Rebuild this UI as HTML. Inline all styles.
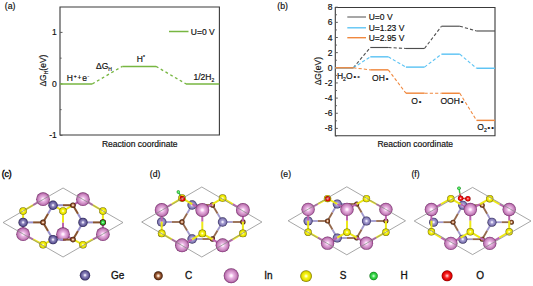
<!DOCTYPE html>
<html><head><meta charset="utf-8"><style>
html,body{margin:0;padding:0;background:#fff;width:533px;height:286px;overflow:hidden}
svg{display:block}
text{font-family:"Liberation Sans", sans-serif;fill:#111;stroke:#111;stroke-width:0.18px}
</style></head><body>
<svg width="533" height="286" viewBox="0 0 533 286">
<defs>
<radialGradient id="gIn" cx="0.5" cy="0.5" r="0.5" fx="0.5" fy="0.5"><stop offset="0" stop-color="#ffffff"/><stop offset="0.16" stop-color="#fde8fa"/><stop offset="0.34" stop-color="#eab4e4"/><stop offset="0.6" stop-color="#d496ca"/><stop offset="0.8" stop-color="#be78b4"/><stop offset="0.92" stop-color="#96488a"/><stop offset="1" stop-color="#6a2a60"/></radialGradient>
<radialGradient id="gGe" cx="0.5" cy="0.5" r="0.5" fx="0.5" fy="0.5"><stop offset="0" stop-color="#ffffff"/><stop offset="0.15" stop-color="#e4e0f6"/><stop offset="0.38" stop-color="#a49cd0"/><stop offset="0.66" stop-color="#8a82bc"/><stop offset="0.84" stop-color="#605892"/><stop offset="1" stop-color="#2e2850"/></radialGradient>
<radialGradient id="gGeD" cx="0.5" cy="0.5" r="0.5" fx="0.5" fy="0.5"><stop offset="0" stop-color="#ffffff"/><stop offset="0.15" stop-color="#dcd8f0"/><stop offset="0.36" stop-color="#8e86bc"/><stop offset="0.64" stop-color="#6e66a2"/><stop offset="0.84" stop-color="#4a4280"/><stop offset="1" stop-color="#241e44"/></radialGradient>
<radialGradient id="gS" cx="0.5" cy="0.5" r="0.5" fx="0.5" fy="0.5"><stop offset="0" stop-color="#ffffff"/><stop offset="0.14" stop-color="#ffffa8"/><stop offset="0.38" stop-color="#f8f418"/><stop offset="0.72" stop-color="#e4e000"/><stop offset="0.88" stop-color="#b0a800"/><stop offset="1" stop-color="#706800"/></radialGradient>
<radialGradient id="gC" cx="0.5" cy="0.5" r="0.5" fx="0.5" fy="0.5"><stop offset="0" stop-color="#ffffff"/><stop offset="0.2" stop-color="#f4d0b4"/><stop offset="0.45" stop-color="#a86c48"/><stop offset="0.72" stop-color="#763e1e"/><stop offset="0.88" stop-color="#5a2a10"/><stop offset="1" stop-color="#2a1004"/></radialGradient>
<radialGradient id="gH" cx="0.5" cy="0.5" r="0.5" fx="0.5" fy="0.5"><stop offset="0" stop-color="#f0fff0"/><stop offset="0.2" stop-color="#90f0a0"/><stop offset="0.45" stop-color="#40dc50"/><stop offset="0.8" stop-color="#20b830"/><stop offset="1" stop-color="#0a7010"/></radialGradient>
<radialGradient id="gO" cx="0.5" cy="0.5" r="0.5" fx="0.5" fy="0.5"><stop offset="0" stop-color="#fff0f0"/><stop offset="0.2" stop-color="#ff8080"/><stop offset="0.45" stop-color="#f82020"/><stop offset="0.8" stop-color="#d80000"/><stop offset="1" stop-color="#800000"/></radialGradient>
</defs>
<path d="M60.0,135.0 L60.0,7.0 L219.4,7.0 L219.4,135.0 Z" fill="none" stroke="#3a3a3a" stroke-width="1.1" stroke-linejoin="miter"/>
<line x1="60" y1="32.400000000000006" x2="62.5" y2="32.400000000000006" stroke="#5a5a5a" stroke-width="1"/>
<text x="56.8" y="35.400000000000006" text-anchor="end" font-size="8.5">1</text>
<line x1="60" y1="83.9" x2="62.5" y2="83.9" stroke="#5a5a5a" stroke-width="1"/>
<text x="56.8" y="86.9" text-anchor="end" font-size="8.5">0</text>
<line x1="60" y1="135.4" x2="62.5" y2="135.4" stroke="#5a5a5a" stroke-width="1"/>
<text x="56.8" y="138.4" text-anchor="end" font-size="8.5">-1</text>
<line x1="60" y1="58.150000000000006" x2="61.6" y2="58.150000000000006" stroke="#5a5a5a" stroke-width="1"/>
<line x1="60" y1="109.65" x2="61.6" y2="109.65" stroke="#5a5a5a" stroke-width="1"/>
<line x1="60" y1="83.9" x2="92.3" y2="83.9" stroke="#77b641" stroke-width="1.5"/>
<line x1="92.3" y1="83.9" x2="122.3" y2="66.39" stroke="#77b641" stroke-width="1.3" stroke-dasharray="2.8,2.7"/>
<line x1="122.3" y1="66.39" x2="156" y2="66.39" stroke="#77b641" stroke-width="1.5"/>
<line x1="156" y1="66.39" x2="186" y2="83.9" stroke="#77b641" stroke-width="1.3" stroke-dasharray="2.8,2.7"/>
<line x1="186" y1="83.9" x2="219.3" y2="83.9" stroke="#77b641" stroke-width="1.5"/>
<line x1="169" y1="31.5" x2="188.5" y2="31.5" stroke="#77b641" stroke-width="1.5"/>
<text x="190.8" y="34.6" font-size="8.5">U=0 V</text>
<text x="66.8" y="80.8" font-size="8.5">H<tspan font-size="5" dy="-3.3" dx="0.8">+</tspan><tspan font-size="6.6" dy="2.9" dx="0.9">+</tspan><tspan dy="0.4" dx="0.9">e</tspan><tspan font-size="5" dy="-3.3" dx="0.5">-</tspan></text>
<text x="96" y="68.8" font-size="8.5">ΔG<tspan font-size="5" dy="2">H</tspan></text>
<text x="136.8" y="61.8" font-size="8.5">H<tspan font-size="5" dy="-3">*</tspan></text>
<text x="193.5" y="79.8" font-size="8.5">1/2H<tspan font-size="5" dy="2.5">2</tspan></text>
<text x="139.7" y="147.3" text-anchor="middle" font-size="8.5">Reaction coordinate</text>
<text transform="translate(46.4,70.6) rotate(-90)" text-anchor="middle" font-size="8.5">ΔG<tspan font-size="5" dy="2">H</tspan><tspan dy="-2">(eV)</tspan></text>
<text x="4.8" y="9.3" font-size="8.7">(a)</text>
<path d="M335.3,135.8 L335.3,7.5 L495.0,7.5 L495.0,135.8 Z" fill="none" stroke="#3a3a3a" stroke-width="1.1" stroke-linejoin="miter"/>
<line x1="335.3" y1="7.199999999999996" x2="337.8" y2="7.199999999999996" stroke="#5a5a5a" stroke-width="1"/>
<text x="332.4" y="10.199999999999996" text-anchor="end" font-size="8.5">8</text>
<line x1="335.3" y1="22.349999999999994" x2="337.8" y2="22.349999999999994" stroke="#5a5a5a" stroke-width="1"/>
<text x="332.4" y="25.349999999999994" text-anchor="end" font-size="8.5">6</text>
<line x1="335.3" y1="37.5" x2="337.8" y2="37.5" stroke="#5a5a5a" stroke-width="1"/>
<text x="332.4" y="40.5" text-anchor="end" font-size="8.5">4</text>
<line x1="335.3" y1="52.65" x2="337.8" y2="52.65" stroke="#5a5a5a" stroke-width="1"/>
<text x="332.4" y="55.65" text-anchor="end" font-size="8.5">2</text>
<line x1="335.3" y1="67.8" x2="337.8" y2="67.8" stroke="#5a5a5a" stroke-width="1"/>
<text x="332.4" y="70.8" text-anchor="end" font-size="8.5">0</text>
<line x1="335.3" y1="82.95" x2="337.8" y2="82.95" stroke="#5a5a5a" stroke-width="1"/>
<text x="332.4" y="85.95" text-anchor="end" font-size="8.5">-2</text>
<line x1="335.3" y1="98.1" x2="337.8" y2="98.1" stroke="#5a5a5a" stroke-width="1"/>
<text x="332.4" y="101.1" text-anchor="end" font-size="8.5">-4</text>
<line x1="335.3" y1="113.25" x2="337.8" y2="113.25" stroke="#5a5a5a" stroke-width="1"/>
<text x="332.4" y="116.25" text-anchor="end" font-size="8.5">-6</text>
<line x1="335.3" y1="128.4" x2="337.8" y2="128.4" stroke="#5a5a5a" stroke-width="1"/>
<text x="332.4" y="131.4" text-anchor="end" font-size="8.5">-8</text>
<line x1="335.3" y1="14.774999999999999" x2="336.90000000000003" y2="14.774999999999999" stroke="#5a5a5a" stroke-width="1"/>
<line x1="335.3" y1="29.924999999999997" x2="336.90000000000003" y2="29.924999999999997" stroke="#5a5a5a" stroke-width="1"/>
<line x1="335.3" y1="45.074999999999996" x2="336.90000000000003" y2="45.074999999999996" stroke="#5a5a5a" stroke-width="1"/>
<line x1="335.3" y1="60.224999999999994" x2="336.90000000000003" y2="60.224999999999994" stroke="#5a5a5a" stroke-width="1"/>
<line x1="335.3" y1="75.375" x2="336.90000000000003" y2="75.375" stroke="#5a5a5a" stroke-width="1"/>
<line x1="335.3" y1="90.525" x2="336.90000000000003" y2="90.525" stroke="#5a5a5a" stroke-width="1"/>
<line x1="335.3" y1="105.675" x2="336.90000000000003" y2="105.675" stroke="#5a5a5a" stroke-width="1"/>
<line x1="335.3" y1="120.82499999999999" x2="336.90000000000003" y2="120.82499999999999" stroke="#5a5a5a" stroke-width="1"/>
<line x1="335.3" y1="135.975" x2="336.90000000000003" y2="135.975" stroke="#5a5a5a" stroke-width="1"/>
<line x1="335.3" y1="67.8" x2="353.3" y2="67.8" stroke="#4e4e4e" stroke-width="1.15"/>
<line x1="353.3" y1="67.8" x2="370.3" y2="47.498999999999995" stroke="#4e4e4e" stroke-width="1.1" stroke-dasharray="3.2,2.1"/>
<line x1="370.3" y1="47.498999999999995" x2="388.3" y2="47.498999999999995" stroke="#4e4e4e" stroke-width="1.15"/>
<line x1="388.3" y1="47.498999999999995" x2="405.9" y2="48.48375" stroke="#4e4e4e" stroke-width="1.1" stroke-dasharray="3.2,2.1"/>
<line x1="405.9" y1="48.48375" x2="424.5" y2="48.48375" stroke="#4e4e4e" stroke-width="1.15"/>
<line x1="424.5" y1="48.48375" x2="441.5" y2="26.213249999999995" stroke="#4e4e4e" stroke-width="1.1" stroke-dasharray="3.2,2.1"/>
<line x1="441.5" y1="26.213249999999995" x2="459.8" y2="26.213249999999995" stroke="#4e4e4e" stroke-width="1.15"/>
<line x1="459.8" y1="26.213249999999995" x2="476.5" y2="30.985499999999995" stroke="#4e4e4e" stroke-width="1.1" stroke-dasharray="3.2,2.1"/>
<line x1="476.5" y1="30.985499999999995" x2="495" y2="30.985499999999995" stroke="#4e4e4e" stroke-width="1.15"/>
<line x1="335.3" y1="67.8" x2="353.3" y2="67.8" stroke="#5ec4f4" stroke-width="1.45"/>
<line x1="353.3" y1="67.8" x2="370.3" y2="56.81625" stroke="#5ec4f4" stroke-width="1.1" stroke-dasharray="3.2,2.1"/>
<line x1="370.3" y1="56.81625" x2="388.3" y2="56.81625" stroke="#5ec4f4" stroke-width="1.45"/>
<line x1="388.3" y1="56.81625" x2="405.9" y2="67.11825" stroke="#5ec4f4" stroke-width="1.1" stroke-dasharray="3.2,2.1"/>
<line x1="405.9" y1="67.11825" x2="424.5" y2="67.11825" stroke="#5ec4f4" stroke-width="1.45"/>
<line x1="424.5" y1="67.11825" x2="441.5" y2="54.16499999999999" stroke="#5ec4f4" stroke-width="1.1" stroke-dasharray="3.2,2.1"/>
<line x1="441.5" y1="54.16499999999999" x2="459.8" y2="54.16499999999999" stroke="#5ec4f4" stroke-width="1.45"/>
<line x1="459.8" y1="54.16499999999999" x2="476.5" y2="68.2545" stroke="#5ec4f4" stroke-width="1.1" stroke-dasharray="3.2,2.1"/>
<line x1="476.5" y1="68.2545" x2="495" y2="68.2545" stroke="#5ec4f4" stroke-width="1.45"/>
<line x1="335.3" y1="67.8" x2="353.3" y2="67.8" stroke="#f0883e" stroke-width="1.45"/>
<line x1="353.3" y1="67.8" x2="370.3" y2="69.84525" stroke="#f0883e" stroke-width="1.1" stroke-dasharray="3.2,2.1"/>
<line x1="370.3" y1="69.84525" x2="388.3" y2="69.84525" stroke="#f0883e" stroke-width="1.45"/>
<line x1="388.3" y1="69.84525" x2="405.9" y2="93.17625000000001" stroke="#f0883e" stroke-width="1.1" stroke-dasharray="3.2,2.1"/>
<line x1="405.9" y1="93.17625000000001" x2="424.5" y2="93.17625000000001" stroke="#f0883e" stroke-width="1.45"/>
<line x1="424.5" y1="93.17625000000001" x2="441.5" y2="93.25200000000001" stroke="#f0883e" stroke-width="1.1" stroke-dasharray="3.2,2.1"/>
<line x1="441.5" y1="93.25200000000001" x2="459.8" y2="93.25200000000001" stroke="#f0883e" stroke-width="1.45"/>
<line x1="459.8" y1="93.25200000000001" x2="476.5" y2="120.37049999999999" stroke="#f0883e" stroke-width="1.1" stroke-dasharray="3.2,2.1"/>
<line x1="476.5" y1="120.37049999999999" x2="495" y2="120.37049999999999" stroke="#f0883e" stroke-width="1.45"/>
<line x1="347.3" y1="17" x2="366" y2="17" stroke="#4e4e4e" stroke-width="1.0"/>
<text x="368.7" y="20" font-size="8.5">U=0 V</text>
<line x1="347.3" y1="27.8" x2="366" y2="27.8" stroke="#5ec4f4" stroke-width="1.4"/>
<text x="368.7" y="30.8" font-size="8.5">U=1.23 V</text>
<line x1="347.3" y1="37.7" x2="366" y2="37.7" stroke="#f0883e" stroke-width="1.4"/>
<text x="368.7" y="40.7" font-size="8.5">U=2.95 V</text>
<text x="336.9" y="78.9" font-size="8.5">H<tspan font-size="5.2" dy="2">2</tspan><tspan dy="-2">O</tspan><tspan dx="0.9" font-size="7.5">•</tspan><tspan dx="1.2" font-size="7.5" fill="#555" style="stroke:#555">•</tspan></text>
<text x="372.1" y="81.2" font-size="8.5">OH<tspan dx="0.9" font-size="7.5">•</tspan></text>
<text x="411.2" y="104" font-size="8.5">O<tspan dx="0.9" font-size="7.5">•</tspan></text>
<text x="440.5" y="104" font-size="8.5">OOH<tspan dx="0.9" font-size="7.5">•</tspan></text>
<text x="477.3" y="129.6" font-size="8.5">O<tspan font-size="5.2" dy="2">2</tspan><tspan dy="-2" dx="0.6" font-size="7.5">•</tspan><tspan dx="1.2" font-size="7.5">•</tspan></text>
<text x="415.2" y="147.3" text-anchor="middle" font-size="8.5">Reaction coordinate</text>
<text transform="translate(321.3,71.2) rotate(-90)" text-anchor="middle" font-size="8.5">ΔG(eV)</text>
<text x="277.3" y="9.3" font-size="8.7">(b)</text>
<line x1="23.10" y1="234.20" x2="33.08" y2="239.45" stroke="#bc64ae" stroke-width="2.0"/><line x1="33.08" y1="239.45" x2="43.05" y2="244.70" stroke="#ece818" stroke-width="2.0"/>
<line x1="63.00" y1="234.20" x2="53.02" y2="239.45" stroke="#bc64ae" stroke-width="2.0"/><line x1="53.02" y1="239.45" x2="43.05" y2="244.70" stroke="#ece818" stroke-width="2.0"/>
<line x1="63.00" y1="234.20" x2="72.97" y2="239.45" stroke="#bc64ae" stroke-width="2.0"/><line x1="72.97" y1="239.45" x2="82.95" y2="244.70" stroke="#ece818" stroke-width="2.0"/>
<line x1="102.90" y1="234.20" x2="92.93" y2="239.45" stroke="#bc64ae" stroke-width="2.0"/><line x1="92.93" y1="239.45" x2="82.95" y2="244.70" stroke="#ece818" stroke-width="2.0"/>
<line x1="43.05" y1="199.20" x2="33.08" y2="205.10" stroke="#bc64ae" stroke-width="2.0"/><line x1="33.08" y1="205.10" x2="23.10" y2="211.00" stroke="#ece818" stroke-width="2.0"/>
<line x1="43.05" y1="199.20" x2="53.02" y2="205.10" stroke="#bc64ae" stroke-width="2.0"/><line x1="53.02" y1="205.10" x2="63.00" y2="211.00" stroke="#ece818" stroke-width="2.0"/>
<line x1="82.95" y1="199.20" x2="72.97" y2="205.10" stroke="#bc64ae" stroke-width="2.0"/><line x1="72.97" y1="205.10" x2="63.00" y2="211.00" stroke="#ece818" stroke-width="2.0"/>
<line x1="82.95" y1="199.20" x2="92.93" y2="205.10" stroke="#bc64ae" stroke-width="2.0"/><line x1="92.93" y1="205.10" x2="102.90" y2="211.00" stroke="#ece818" stroke-width="2.0"/>
<line x1="23.10" y1="234.20" x2="23.10" y2="222.60" stroke="#bc64ae" stroke-width="2.0"/><line x1="23.10" y1="222.60" x2="23.10" y2="211.00" stroke="#ece818" stroke-width="2.0"/>
<line x1="63.00" y1="234.20" x2="63.00" y2="222.60" stroke="#bc64ae" stroke-width="2.0"/><line x1="63.00" y1="222.60" x2="63.00" y2="211.00" stroke="#ece818" stroke-width="2.0"/>
<line x1="102.90" y1="234.20" x2="102.90" y2="222.60" stroke="#bc64ae" stroke-width="2.0"/><line x1="102.90" y1="222.60" x2="102.90" y2="211.00" stroke="#ece818" stroke-width="2.0"/>
<circle cx="23.10" cy="211.00" r="3.79" fill="url(#gS)"/>
<circle cx="63.00" cy="211.00" r="3.79" fill="url(#gS)"/>
<circle cx="102.90" cy="211.00" r="3.79" fill="url(#gS)"/>
<circle cx="43.05" cy="244.70" r="3.79" fill="url(#gS)"/>
<circle cx="82.95" cy="244.70" r="3.79" fill="url(#gS)"/>
<circle cx="23.10" cy="234.20" r="6.83" fill="url(#gIn)"/>
<circle cx="63.00" cy="234.20" r="6.83" fill="url(#gIn)"/>
<circle cx="102.90" cy="234.20" r="6.83" fill="url(#gIn)"/>
<circle cx="43.05" cy="199.20" r="6.83" fill="url(#gIn)"/>
<circle cx="82.95" cy="199.20" r="6.83" fill="url(#gIn)"/>
<line x1="23.10" y1="222.40" x2="33.08" y2="222.40" stroke="#9890cc" stroke-width="2.0"/><line x1="33.08" y1="222.40" x2="43.05" y2="222.40" stroke="#86522e" stroke-width="2.0"/>
<line x1="53.02" y1="239.60" x2="48.04" y2="231.00" stroke="#9890cc" stroke-width="2.0"/><line x1="48.04" y1="231.00" x2="43.05" y2="222.40" stroke="#86522e" stroke-width="2.0"/>
<line x1="53.02" y1="205.20" x2="48.04" y2="213.80" stroke="#9890cc" stroke-width="2.0"/><line x1="48.04" y1="213.80" x2="43.05" y2="222.40" stroke="#86522e" stroke-width="2.0"/>
<line x1="53.02" y1="239.60" x2="63.00" y2="239.60" stroke="#9890cc" stroke-width="2.0"/><line x1="63.00" y1="239.60" x2="72.97" y2="239.60" stroke="#86522e" stroke-width="2.0"/>
<line x1="53.02" y1="205.20" x2="63.00" y2="205.20" stroke="#9890cc" stroke-width="2.0"/><line x1="63.00" y1="205.20" x2="72.97" y2="205.20" stroke="#86522e" stroke-width="2.0"/>
<line x1="82.95" y1="222.40" x2="77.96" y2="231.00" stroke="#9890cc" stroke-width="2.0"/><line x1="77.96" y1="231.00" x2="72.97" y2="239.60" stroke="#86522e" stroke-width="2.0"/>
<line x1="82.95" y1="222.40" x2="77.96" y2="213.80" stroke="#9890cc" stroke-width="2.0"/><line x1="77.96" y1="213.80" x2="72.97" y2="205.20" stroke="#86522e" stroke-width="2.0"/>
<line x1="82.95" y1="222.40" x2="92.93" y2="222.40" stroke="#9890cc" stroke-width="2.0"/><line x1="92.93" y1="222.40" x2="102.90" y2="222.40" stroke="#86522e" stroke-width="2.0"/>
<circle cx="23.10" cy="222.40" r="4.69" fill="url(#gGeD)"/>
<circle cx="82.95" cy="222.40" r="4.69" fill="url(#gGeD)"/>
<circle cx="53.02" cy="239.60" r="4.69" fill="url(#gGeD)"/>
<circle cx="53.02" cy="205.20" r="4.69" fill="url(#gGeD)"/>
<circle cx="43.05" cy="222.40" r="2.79" fill="url(#gC)"/>
<circle cx="102.90" cy="222.40" r="2.79" fill="url(#gC)"/>
<circle cx="72.97" cy="239.60" r="2.79" fill="url(#gC)"/>
<circle cx="72.97" cy="205.20" r="2.79" fill="url(#gC)"/>
<circle cx="102.90" cy="222.40" r="3.10" fill="url(#gC)"/>
<circle cx="102.90" cy="222.40" r="2.50" fill="url(#gH)"/>
<polygon points="3.10,222.50 63.05,188.00 123.00,222.50 63.05,257.00" fill="none" stroke="#8a8a8a" stroke-width="0.75"/>
<line x1="161.70" y1="222.00" x2="171.85" y2="222.00" stroke="#a098cc" stroke-width="1.8"/><line x1="171.85" y1="222.00" x2="182.00" y2="222.00" stroke="#94684c" stroke-width="1.8"/>
<line x1="192.15" y1="205.00" x2="187.07" y2="213.50" stroke="#a098cc" stroke-width="1.8"/><line x1="187.07" y1="213.50" x2="182.00" y2="222.00" stroke="#94684c" stroke-width="1.8"/>
<line x1="192.15" y1="239.00" x2="187.07" y2="230.50" stroke="#a098cc" stroke-width="1.8"/><line x1="187.07" y1="230.50" x2="182.00" y2="222.00" stroke="#94684c" stroke-width="1.8"/>
<line x1="192.15" y1="205.00" x2="202.30" y2="205.00" stroke="#a098cc" stroke-width="1.8"/><line x1="202.30" y1="205.00" x2="212.45" y2="205.00" stroke="#94684c" stroke-width="1.8"/>
<line x1="192.15" y1="239.00" x2="202.30" y2="239.00" stroke="#a098cc" stroke-width="1.8"/><line x1="202.30" y1="239.00" x2="212.45" y2="239.00" stroke="#94684c" stroke-width="1.8"/>
<line x1="222.60" y1="222.00" x2="217.53" y2="213.50" stroke="#a098cc" stroke-width="1.8"/><line x1="217.53" y1="213.50" x2="212.45" y2="205.00" stroke="#94684c" stroke-width="1.8"/>
<line x1="222.60" y1="222.00" x2="217.53" y2="230.50" stroke="#a098cc" stroke-width="1.8"/><line x1="217.53" y1="230.50" x2="212.45" y2="239.00" stroke="#94684c" stroke-width="1.8"/>
<line x1="222.60" y1="222.00" x2="232.75" y2="222.00" stroke="#a098cc" stroke-width="1.8"/><line x1="232.75" y1="222.00" x2="242.90" y2="222.00" stroke="#94684c" stroke-width="1.8"/>
<circle cx="161.70" cy="222.00" r="4.77" fill="url(#gGe)"/>
<circle cx="222.60" cy="222.00" r="4.77" fill="url(#gGe)"/>
<circle cx="192.15" cy="205.00" r="4.77" fill="url(#gGe)"/>
<circle cx="192.15" cy="239.00" r="4.77" fill="url(#gGe)"/>
<circle cx="182.00" cy="222.00" r="2.64" fill="url(#gC)"/>
<circle cx="242.90" cy="222.00" r="2.64" fill="url(#gC)"/>
<circle cx="212.45" cy="205.00" r="2.64" fill="url(#gC)"/>
<circle cx="212.45" cy="239.00" r="2.64" fill="url(#gC)"/>
<line x1="161.70" y1="210.00" x2="171.85" y2="204.05" stroke="#bc64ae" stroke-width="2.0"/><line x1="171.85" y1="204.05" x2="182.00" y2="198.10" stroke="#ece818" stroke-width="2.0"/>
<line x1="202.30" y1="210.00" x2="192.15" y2="204.05" stroke="#bc64ae" stroke-width="2.0"/><line x1="192.15" y1="204.05" x2="182.00" y2="198.10" stroke="#ece818" stroke-width="2.0"/>
<line x1="202.30" y1="210.00" x2="212.45" y2="204.05" stroke="#bc64ae" stroke-width="2.0"/><line x1="212.45" y1="204.05" x2="222.60" y2="198.10" stroke="#ece818" stroke-width="2.0"/>
<line x1="242.90" y1="210.00" x2="232.75" y2="204.05" stroke="#bc64ae" stroke-width="2.0"/><line x1="232.75" y1="204.05" x2="222.60" y2="198.10" stroke="#ece818" stroke-width="2.0"/>
<line x1="182.00" y1="245.30" x2="171.85" y2="239.35" stroke="#bc64ae" stroke-width="2.0"/><line x1="171.85" y1="239.35" x2="161.70" y2="233.40" stroke="#ece818" stroke-width="2.0"/>
<line x1="182.00" y1="245.30" x2="192.15" y2="239.35" stroke="#bc64ae" stroke-width="2.0"/><line x1="192.15" y1="239.35" x2="202.30" y2="233.40" stroke="#ece818" stroke-width="2.0"/>
<line x1="222.60" y1="245.30" x2="212.45" y2="239.35" stroke="#bc64ae" stroke-width="2.0"/><line x1="212.45" y1="239.35" x2="202.30" y2="233.40" stroke="#ece818" stroke-width="2.0"/>
<line x1="222.60" y1="245.30" x2="232.75" y2="239.35" stroke="#bc64ae" stroke-width="2.0"/><line x1="232.75" y1="239.35" x2="242.90" y2="233.40" stroke="#ece818" stroke-width="2.0"/>
<line x1="161.70" y1="210.00" x2="161.70" y2="221.70" stroke="#bc64ae" stroke-width="2.0"/><line x1="161.70" y1="221.70" x2="161.70" y2="233.40" stroke="#ece818" stroke-width="2.0"/>
<line x1="202.30" y1="210.00" x2="202.30" y2="221.70" stroke="#bc64ae" stroke-width="2.0"/><line x1="202.30" y1="221.70" x2="202.30" y2="233.40" stroke="#ece818" stroke-width="2.0"/>
<line x1="242.90" y1="210.00" x2="242.90" y2="221.70" stroke="#bc64ae" stroke-width="2.0"/><line x1="242.90" y1="221.70" x2="242.90" y2="233.40" stroke="#ece818" stroke-width="2.0"/>
<circle cx="161.70" cy="233.40" r="3.86" fill="url(#gS)"/>
<circle cx="202.30" cy="233.40" r="3.86" fill="url(#gS)"/>
<circle cx="242.90" cy="233.40" r="3.86" fill="url(#gS)"/>
<circle cx="182.00" cy="198.10" r="3.86" fill="url(#gS)"/>
<circle cx="222.60" cy="198.10" r="3.86" fill="url(#gS)"/>
<circle cx="161.70" cy="210.00" r="6.95" fill="url(#gIn)"/>
<circle cx="202.30" cy="210.00" r="6.95" fill="url(#gIn)"/>
<circle cx="242.90" cy="210.00" r="6.95" fill="url(#gIn)"/>
<circle cx="182.00" cy="245.30" r="6.95" fill="url(#gIn)"/>
<circle cx="222.60" cy="245.30" r="6.95" fill="url(#gIn)"/>
<line x1="182.40" y1="198.80" x2="180.35" y2="195.40" stroke="#e01818" stroke-width="1.3"/><line x1="180.35" y1="195.40" x2="178.30" y2="192.00" stroke="#30c040" stroke-width="1.3"/>
<circle cx="182.40" cy="198.80" r="2.70" fill="url(#gO)"/>
<circle cx="178.30" cy="192.00" r="1.70" fill="url(#gH)"/>
<polygon points="141.70,222.00 201.80,187.00 261.90,222.00 201.80,257.00" fill="none" stroke="#8a8a8a" stroke-width="0.75"/>
<line x1="308.10" y1="221.00" x2="317.83" y2="221.00" stroke="#a098cc" stroke-width="1.8"/><line x1="317.83" y1="221.00" x2="327.55" y2="221.00" stroke="#94684c" stroke-width="1.8"/>
<line x1="337.27" y1="204.00" x2="332.41" y2="212.50" stroke="#a098cc" stroke-width="1.8"/><line x1="332.41" y1="212.50" x2="327.55" y2="221.00" stroke="#94684c" stroke-width="1.8"/>
<line x1="337.27" y1="238.00" x2="332.41" y2="229.50" stroke="#a098cc" stroke-width="1.8"/><line x1="332.41" y1="229.50" x2="327.55" y2="221.00" stroke="#94684c" stroke-width="1.8"/>
<line x1="337.27" y1="204.00" x2="347.00" y2="204.00" stroke="#a098cc" stroke-width="1.8"/><line x1="347.00" y1="204.00" x2="356.73" y2="204.00" stroke="#94684c" stroke-width="1.8"/>
<line x1="337.27" y1="238.00" x2="347.00" y2="238.00" stroke="#a098cc" stroke-width="1.8"/><line x1="347.00" y1="238.00" x2="356.73" y2="238.00" stroke="#94684c" stroke-width="1.8"/>
<line x1="366.45" y1="221.00" x2="361.59" y2="212.50" stroke="#a098cc" stroke-width="1.8"/><line x1="361.59" y1="212.50" x2="356.73" y2="204.00" stroke="#94684c" stroke-width="1.8"/>
<line x1="366.45" y1="221.00" x2="361.59" y2="229.50" stroke="#a098cc" stroke-width="1.8"/><line x1="361.59" y1="229.50" x2="356.73" y2="238.00" stroke="#94684c" stroke-width="1.8"/>
<line x1="366.45" y1="221.00" x2="376.17" y2="221.00" stroke="#a098cc" stroke-width="1.8"/><line x1="376.17" y1="221.00" x2="385.90" y2="221.00" stroke="#94684c" stroke-width="1.8"/>
<circle cx="308.10" cy="221.00" r="4.57" fill="url(#gGe)"/>
<circle cx="366.45" cy="221.00" r="4.57" fill="url(#gGe)"/>
<circle cx="337.27" cy="204.00" r="4.57" fill="url(#gGe)"/>
<circle cx="337.27" cy="238.00" r="4.57" fill="url(#gGe)"/>
<circle cx="327.55" cy="221.00" r="2.53" fill="url(#gC)"/>
<circle cx="385.90" cy="221.00" r="2.53" fill="url(#gC)"/>
<circle cx="356.73" cy="204.00" r="2.53" fill="url(#gC)"/>
<circle cx="356.73" cy="238.00" r="2.53" fill="url(#gC)"/>
<line x1="308.10" y1="209.40" x2="317.83" y2="204.00" stroke="#bc64ae" stroke-width="2.0"/><line x1="317.83" y1="204.00" x2="327.55" y2="198.60" stroke="#ece818" stroke-width="2.0"/>
<line x1="347.00" y1="209.40" x2="337.27" y2="204.00" stroke="#bc64ae" stroke-width="2.0"/><line x1="337.27" y1="204.00" x2="327.55" y2="198.60" stroke="#ece818" stroke-width="2.0"/>
<line x1="347.00" y1="209.40" x2="356.73" y2="204.00" stroke="#bc64ae" stroke-width="2.0"/><line x1="356.73" y1="204.00" x2="366.45" y2="198.60" stroke="#ece818" stroke-width="2.0"/>
<line x1="385.90" y1="209.40" x2="376.17" y2="204.00" stroke="#bc64ae" stroke-width="2.0"/><line x1="376.17" y1="204.00" x2="366.45" y2="198.60" stroke="#ece818" stroke-width="2.0"/>
<line x1="327.55" y1="243.20" x2="317.83" y2="237.70" stroke="#bc64ae" stroke-width="2.0"/><line x1="317.83" y1="237.70" x2="308.10" y2="232.20" stroke="#ece818" stroke-width="2.0"/>
<line x1="327.55" y1="243.20" x2="337.27" y2="237.70" stroke="#bc64ae" stroke-width="2.0"/><line x1="337.27" y1="237.70" x2="347.00" y2="232.20" stroke="#ece818" stroke-width="2.0"/>
<line x1="366.45" y1="243.20" x2="356.73" y2="237.70" stroke="#bc64ae" stroke-width="2.0"/><line x1="356.73" y1="237.70" x2="347.00" y2="232.20" stroke="#ece818" stroke-width="2.0"/>
<line x1="366.45" y1="243.20" x2="376.17" y2="237.70" stroke="#bc64ae" stroke-width="2.0"/><line x1="376.17" y1="237.70" x2="385.90" y2="232.20" stroke="#ece818" stroke-width="2.0"/>
<line x1="308.10" y1="209.40" x2="308.10" y2="220.80" stroke="#bc64ae" stroke-width="2.0"/><line x1="308.10" y1="220.80" x2="308.10" y2="232.20" stroke="#ece818" stroke-width="2.0"/>
<line x1="347.00" y1="209.40" x2="347.00" y2="220.80" stroke="#bc64ae" stroke-width="2.0"/><line x1="347.00" y1="220.80" x2="347.00" y2="232.20" stroke="#ece818" stroke-width="2.0"/>
<line x1="385.90" y1="209.40" x2="385.90" y2="220.80" stroke="#bc64ae" stroke-width="2.0"/><line x1="385.90" y1="220.80" x2="385.90" y2="232.20" stroke="#ece818" stroke-width="2.0"/>
<circle cx="308.10" cy="232.20" r="3.70" fill="url(#gS)"/>
<circle cx="347.00" cy="232.20" r="3.70" fill="url(#gS)"/>
<circle cx="385.90" cy="232.20" r="3.70" fill="url(#gS)"/>
<circle cx="327.55" cy="198.60" r="3.70" fill="url(#gS)"/>
<circle cx="366.45" cy="198.60" r="3.70" fill="url(#gS)"/>
<circle cx="308.10" cy="209.40" r="6.66" fill="url(#gIn)"/>
<circle cx="347.00" cy="209.40" r="6.66" fill="url(#gIn)"/>
<circle cx="385.90" cy="209.40" r="6.66" fill="url(#gIn)"/>
<circle cx="327.55" cy="243.20" r="6.66" fill="url(#gIn)"/>
<circle cx="366.45" cy="243.20" r="6.66" fill="url(#gIn)"/>
<circle cx="327.70" cy="198.80" r="2.70" fill="url(#gO)"/>
<polygon points="288.10,220.80 346.80,186.80 405.50,220.80 346.80,254.80" fill="none" stroke="#8a8a8a" stroke-width="0.75"/>
<line x1="433.60" y1="222.20" x2="443.33" y2="222.20" stroke="#a098cc" stroke-width="1.8"/><line x1="443.33" y1="222.20" x2="453.05" y2="222.20" stroke="#94684c" stroke-width="1.8"/>
<line x1="462.77" y1="205.20" x2="457.91" y2="213.70" stroke="#a098cc" stroke-width="1.8"/><line x1="457.91" y1="213.70" x2="453.05" y2="222.20" stroke="#94684c" stroke-width="1.8"/>
<line x1="462.77" y1="239.20" x2="457.91" y2="230.70" stroke="#a098cc" stroke-width="1.8"/><line x1="457.91" y1="230.70" x2="453.05" y2="222.20" stroke="#94684c" stroke-width="1.8"/>
<line x1="462.77" y1="205.20" x2="472.50" y2="205.20" stroke="#a098cc" stroke-width="1.8"/><line x1="472.50" y1="205.20" x2="482.23" y2="205.20" stroke="#94684c" stroke-width="1.8"/>
<line x1="462.77" y1="239.20" x2="472.50" y2="239.20" stroke="#a098cc" stroke-width="1.8"/><line x1="472.50" y1="239.20" x2="482.23" y2="239.20" stroke="#94684c" stroke-width="1.8"/>
<line x1="491.95" y1="222.20" x2="487.09" y2="213.70" stroke="#a098cc" stroke-width="1.8"/><line x1="487.09" y1="213.70" x2="482.23" y2="205.20" stroke="#94684c" stroke-width="1.8"/>
<line x1="491.95" y1="222.20" x2="487.09" y2="230.70" stroke="#a098cc" stroke-width="1.8"/><line x1="487.09" y1="230.70" x2="482.23" y2="239.20" stroke="#94684c" stroke-width="1.8"/>
<line x1="491.95" y1="222.20" x2="501.67" y2="222.20" stroke="#a098cc" stroke-width="1.8"/><line x1="501.67" y1="222.20" x2="511.40" y2="222.20" stroke="#94684c" stroke-width="1.8"/>
<circle cx="433.60" cy="222.20" r="4.57" fill="url(#gGe)"/>
<circle cx="491.95" cy="222.20" r="4.57" fill="url(#gGe)"/>
<circle cx="462.77" cy="205.20" r="4.57" fill="url(#gGe)"/>
<circle cx="462.77" cy="239.20" r="4.57" fill="url(#gGe)"/>
<circle cx="453.05" cy="222.20" r="2.53" fill="url(#gC)"/>
<circle cx="511.40" cy="222.20" r="2.53" fill="url(#gC)"/>
<circle cx="482.23" cy="205.20" r="2.53" fill="url(#gC)"/>
<circle cx="482.23" cy="239.20" r="2.53" fill="url(#gC)"/>
<line x1="431.40" y1="209.50" x2="441.12" y2="204.10" stroke="#bc64ae" stroke-width="2.0"/><line x1="441.12" y1="204.10" x2="450.85" y2="198.70" stroke="#ece818" stroke-width="2.0"/>
<line x1="470.30" y1="209.50" x2="460.58" y2="204.10" stroke="#bc64ae" stroke-width="2.0"/><line x1="460.58" y1="204.10" x2="450.85" y2="198.70" stroke="#ece818" stroke-width="2.0"/>
<line x1="470.30" y1="209.50" x2="480.02" y2="204.10" stroke="#bc64ae" stroke-width="2.0"/><line x1="480.02" y1="204.10" x2="489.75" y2="198.70" stroke="#ece818" stroke-width="2.0"/>
<line x1="509.20" y1="209.50" x2="499.48" y2="204.10" stroke="#bc64ae" stroke-width="2.0"/><line x1="499.48" y1="204.10" x2="489.75" y2="198.70" stroke="#ece818" stroke-width="2.0"/>
<line x1="450.85" y1="243.40" x2="441.12" y2="237.60" stroke="#bc64ae" stroke-width="2.0"/><line x1="441.12" y1="237.60" x2="431.40" y2="231.80" stroke="#ece818" stroke-width="2.0"/>
<line x1="450.85" y1="243.40" x2="460.58" y2="237.60" stroke="#bc64ae" stroke-width="2.0"/><line x1="460.58" y1="237.60" x2="470.30" y2="231.80" stroke="#ece818" stroke-width="2.0"/>
<line x1="489.75" y1="243.40" x2="480.02" y2="237.60" stroke="#bc64ae" stroke-width="2.0"/><line x1="480.02" y1="237.60" x2="470.30" y2="231.80" stroke="#ece818" stroke-width="2.0"/>
<line x1="489.75" y1="243.40" x2="499.48" y2="237.60" stroke="#bc64ae" stroke-width="2.0"/><line x1="499.48" y1="237.60" x2="509.20" y2="231.80" stroke="#ece818" stroke-width="2.0"/>
<line x1="431.40" y1="209.50" x2="431.40" y2="220.65" stroke="#bc64ae" stroke-width="2.0"/><line x1="431.40" y1="220.65" x2="431.40" y2="231.80" stroke="#ece818" stroke-width="2.0"/>
<line x1="470.30" y1="209.50" x2="470.30" y2="220.65" stroke="#bc64ae" stroke-width="2.0"/><line x1="470.30" y1="220.65" x2="470.30" y2="231.80" stroke="#ece818" stroke-width="2.0"/>
<line x1="509.20" y1="209.50" x2="509.20" y2="220.65" stroke="#bc64ae" stroke-width="2.0"/><line x1="509.20" y1="220.65" x2="509.20" y2="231.80" stroke="#ece818" stroke-width="2.0"/>
<circle cx="431.40" cy="231.80" r="3.70" fill="url(#gS)"/>
<circle cx="470.30" cy="231.80" r="3.70" fill="url(#gS)"/>
<circle cx="509.20" cy="231.80" r="3.70" fill="url(#gS)"/>
<circle cx="450.85" cy="198.70" r="3.70" fill="url(#gS)"/>
<circle cx="489.75" cy="198.70" r="3.70" fill="url(#gS)"/>
<circle cx="431.40" cy="209.50" r="6.66" fill="url(#gIn)"/>
<circle cx="470.30" cy="209.50" r="6.66" fill="url(#gIn)"/>
<circle cx="509.20" cy="209.50" r="6.66" fill="url(#gIn)"/>
<circle cx="450.85" cy="243.40" r="6.66" fill="url(#gIn)"/>
<circle cx="489.75" cy="243.40" r="6.66" fill="url(#gIn)"/>
<line x1="460.60" y1="198.30" x2="464.25" y2="198.50" stroke="#e01818" stroke-width="1.5"/><line x1="464.25" y1="198.50" x2="467.90" y2="198.70" stroke="#e01818" stroke-width="1.5"/>
<line x1="460.60" y1="198.30" x2="459.80" y2="193.25" stroke="#e01818" stroke-width="1.4"/><line x1="459.80" y1="193.25" x2="459.00" y2="188.20" stroke="#30c040" stroke-width="1.4"/>
<circle cx="460.60" cy="198.30" r="2.70" fill="url(#gO)"/>
<circle cx="467.90" cy="198.70" r="2.70" fill="url(#gO)"/>
<circle cx="459.00" cy="188.20" r="1.80" fill="url(#gH)"/>
<polygon points="414.20,221.00 472.60,187.40 531.00,221.00 472.60,254.60" fill="none" stroke="#8a8a8a" stroke-width="0.75"/>
<text x="1.7" y="177.2" font-size="8.6" style="stroke-width:0.45px">(c)</text>
<text x="149.8" y="177.2" font-size="8.6" style="stroke-width:0.2px">(d)</text>
<text x="280.5" y="177.2" font-size="8.6" style="stroke-width:0.2px">(e)</text>
<text x="411.5" y="177.2" font-size="8.6" style="stroke-width:0.2px">(f)</text>
<circle cx="85.00" cy="275.20" r="5.20" fill="url(#gGeD)"/>
<text x="111" y="279.1" font-size="10" style="stroke-width:0.3px">Ge</text>
<circle cx="158.30" cy="275.80" r="4.50" fill="url(#gC)"/>
<text x="185" y="279.1" font-size="10" style="stroke-width:0.3px">C</text>
<circle cx="231.20" cy="275.70" r="7.50" fill="url(#gIn)"/>
<text x="264.3" y="279.1" font-size="10" style="stroke-width:0.3px">In</text>
<circle cx="306.10" cy="276.10" r="5.90" fill="url(#gS)"/>
<text x="339.7" y="279.1" font-size="10" style="stroke-width:0.3px">S</text>
<circle cx="373.60" cy="276.00" r="4.20" fill="url(#gH)"/>
<text x="400.5" y="279.1" font-size="10" style="stroke-width:0.3px">H</text>
<circle cx="447.10" cy="275.80" r="5.50" fill="url(#gO)"/>
<text x="476.3" y="279.1" font-size="10" style="stroke-width:0.3px">O</text>
</svg></body></html>
